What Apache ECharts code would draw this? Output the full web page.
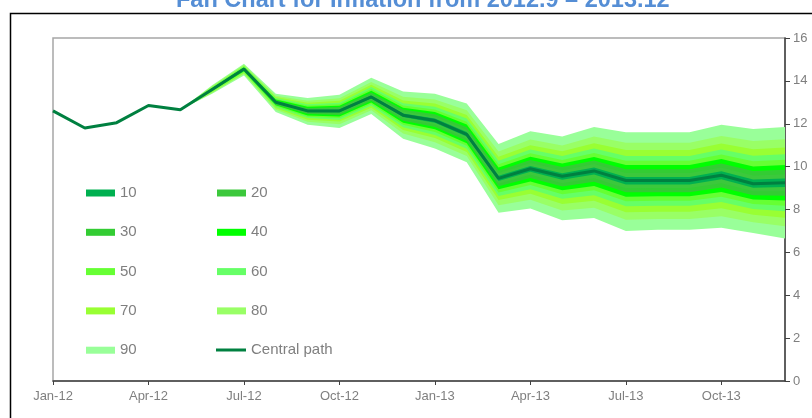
<!DOCTYPE html>
<html>
<head>
<meta charset="utf-8">
<script src="https://cdn.jsdelivr.net/npm/echarts@6/dist/echarts.min.js"></script>
<style>
  html, body { margin: 0; padding: 0; background: #fff; }
  #main { width: 812px; height: 418px; }
</style>
</head>
<body>
<div id="main"></div>
<script>
// months on the x axis
var months = ['Jan-12', 'Feb-12', 'Mar-12', 'Apr-12', 'May-12', 'Jun-12', 'Jul-12', 'Aug-12',
  'Sep-12', 'Oct-12', 'Nov-12', 'Dec-12', 'Jan-13', 'Feb-13', 'Mar-13', 'Apr-13',
  'May-13', 'Jun-13', 'Jul-13', 'Aug-13', 'Sep-13', 'Oct-13', 'Nov-13', 'Dec-13'];

// central path
var centralPath = [12.6, 11.8, 12.05, 12.85, 12.65, 13.6, 14.55, 13.0, 12.6, 12.6, 13.25, 12.4,
  12.15, 11.5, 9.45, 9.9, 9.55, 9.8, 9.35, 9.35, 9.35, 9.6, 9.2, 9.25];

// fan bands: lower / upper bound of each probability band
var band10Lo = [null, null, null, null, 12.65, 13.58, 14.53, 12.97, 12.55, 12.54, 13.19, 12.32, 12.05, 11.4, 9.33, 9.76, 9.39, 9.63, 9.17, 9.17, 9.17, 9.41, 9.02, 9.05];
var band10Hi = [null, null, null, null, 12.65, 13.62, 14.57, 13.03, 12.65, 12.66, 13.32, 12.48, 12.25, 11.61, 9.57, 10.03, 9.69, 9.96, 9.52, 9.52, 9.52, 9.78, 9.4, 9.45];
var band20Lo = [null, null, null, null, 12.65, 13.57, 14.5, 12.93, 12.5, 12.48, 13.13, 12.23, 11.95, 11.3, 9.2, 9.62, 9.23, 9.46, 8.99, 9.0, 9.0, 9.22, 8.85, 8.85];
var band20Hi = [null, null, null, null, 12.65, 13.63, 14.59, 13.06, 12.69, 12.72, 13.39, 12.57, 12.34, 11.72, 9.7, 10.17, 9.83, 10.12, 9.7, 9.7, 9.7, 9.96, 9.59, 9.65];
var band30Lo = [null, null, null, null, 12.65, 13.55, 14.48, 12.89, 12.45, 12.41, 13.06, 12.14, 11.85, 11.2, 9.08, 9.47, 9.07, 9.29, 8.8, 8.81, 8.81, 9.03, 8.66, 8.64];
var band30Hi = [null, null, null, null, 12.65, 13.65, 14.61, 13.09, 12.74, 12.78, 13.46, 12.66, 12.44, 11.84, 9.82, 10.31, 9.98, 10.28, 9.88, 9.88, 9.88, 10.15, 9.8, 9.86];
var band40Lo = [null, null, null, null, 12.65, 13.54, 14.45, 12.86, 12.39, 12.34, 12.99, 12.05, 11.74, 11.09, 8.94, 9.31, 8.9, 9.1, 8.6, 8.62, 8.62, 8.82, 8.47, 8.42];
var band40Hi = [null, null, null, null, 12.65, 13.66, 14.63, 13.13, 12.79, 12.84, 13.54, 12.75, 12.55, 11.96, 9.96, 10.46, 10.14, 10.45, 10.07, 10.07, 10.07, 10.35, 10.01, 10.08];
var band50Lo = [null, null, null, null, 12.65, 13.52, 14.43, 12.82, 12.33, 12.27, 12.92, 11.95, 11.62, 10.97, 8.79, 9.14, 8.71, 8.9, 8.39, 8.41, 8.41, 8.6, 8.26, 8.18];
var band50Hi = [null, null, null, null, 12.65, 13.68, 14.65, 13.16, 12.85, 12.91, 13.62, 12.85, 12.66, 12.09, 10.11, 10.62, 10.31, 10.64, 10.27, 10.27, 10.27, 10.56, 10.25, 10.32];
var band60Lo = [null, null, null, null, 12.65, 13.5, 14.4, 12.77, 12.27, 12.19, 12.84, 11.84, 11.48, 10.83, 8.63, 8.95, 8.5, 8.67, 8.15, 8.17, 8.17, 8.35, 8.02, 7.92];
var band60Hi = [null, null, null, null, 12.65, 13.7, 14.68, 13.2, 12.91, 12.98, 13.71, 12.96, 12.79, 12.24, 10.27, 10.8, 10.5, 10.85, 10.5, 10.5, 10.5, 10.8, 10.51, 10.58];
var band70Lo = [null, null, null, null, 12.65, 13.47, 14.36, 12.72, 12.19, 12.1, 12.75, 11.71, 11.33, 10.68, 8.44, 8.73, 8.26, 8.41, 7.87, 7.9, 7.9, 8.06, 7.75, 7.61];
var band70Hi = [null, null, null, null, 12.65, 13.73, 14.71, 13.25, 12.98, 13.07, 13.82, 13.09, 12.94, 12.41, 10.46, 11.0, 10.72, 11.09, 10.77, 10.77, 10.77, 11.08, 10.81, 10.89];
var band80Lo = [null, null, null, null, 12.65, 13.44, 14.32, 12.65, 12.09, 11.98, 12.63, 11.54, 11.14, 10.49, 8.2, 8.46, 7.95, 8.08, 7.52, 7.56, 7.56, 7.69, 7.41, 7.22];
var band80Hi = [null, null, null, null, 12.65, 13.76, 14.75, 13.31, 13.07, 13.19, 13.95, 13.26, 13.13, 12.63, 10.7, 11.27, 10.99, 11.4, 11.11, 11.11, 11.11, 11.43, 11.19, 11.28];
var band90Lo = [null, null, null, null, 12.65, 13.4, 14.25, 12.55, 11.95, 11.8, 12.45, 11.3, 10.85, 10.2, 7.85, 8.05, 7.5, 7.6, 7.0, 7.05, 7.05, 7.15, 6.9, 6.65];
var band90Hi = [null, null, null, null, 12.65, 13.8, 14.8, 13.4, 13.2, 13.35, 14.15, 13.5, 13.4, 12.95, 11.05, 11.65, 11.4, 11.85, 11.6, 11.6, 11.6, 11.95, 11.75, 11.85];

var yTicks = [0, 2, 4, 6, 8, 10, 12, 14, 16];

var bands = [
  { name: '90', lo: band90Lo, hi: band90Hi, color: '#99FF99' },
  { name: '80', lo: band80Lo, hi: band80Hi, color: '#99FF66' },
  { name: '70', lo: band70Lo, hi: band70Hi, color: '#99FF33' },
  { name: '60', lo: band60Lo, hi: band60Hi, color: '#66FF66' },
  { name: '50', lo: band50Lo, hi: band50Hi, color: '#66FF33' },
  { name: '40', lo: band40Lo, hi: band40Hi, color: '#00FF00' },
  { name: '30', lo: band30Lo, hi: band30Hi, color: '#33CC33' },
  { name: '20', lo: band20Lo, hi: band20Hi, color: '#3CC83C' },
  { name: '10', lo: band10Lo, hi: band10Hi, color: '#00B050' }
];

var myChart = echarts.init(document.getElementById('main'));

var series = [];
bands.forEach(function (b) {
  // invisible base line, then the band thickness stacked on it
  series.push({
    name: b.name + '-base',
    type: 'line',
    stack: 'band' + b.name,
    data: b.lo,
    symbol: 'none',
    lineStyle: { width: 0, opacity: 0 },
    silent: true
  });
  series.push({
    name: b.name,
    type: 'line',
    stack: 'band' + b.name,
    data: b.hi.map(function (v, i) {
      return v == null ? null : +(v - b.lo[i]).toFixed(3);
    }),
    symbol: 'none',
    color: b.color,
    itemStyle: { color: b.color },
    lineStyle: { width: 0, opacity: 0 },
    areaStyle: { color: b.color, opacity: 1 },
    silent: true
  });
});
series.push({
  name: 'Central path',
  type: 'line',
  data: centralPath,
  symbol: 'none',
  color: '#008040',
  itemStyle: { color: '#008040' },
  lineStyle: { color: '#008040', width: 3 },
  z: 5
});

var legendText = { color: '#7f7f7f', fontSize: 15, fontFamily: 'Liberation Sans, Arial', lineHeight: 16 };

var option = {
  animation: false,
  backgroundColor: '#fff',
  title: {
    text: 'Fan Chart for Inflation from 2012.9 \u2013 2013.12',
    left: 171,
    top: -16,
    textStyle: { color: '#558ED5', fontSize: 23.5, fontWeight: 'bold', fontFamily: 'Liberation Sans, Arial' }
  },
  graphic: [
    {
      type: 'rect',
      shape: { x: 10.5, y: 13.5, width: 900, height: 500 },
      style: { fill: 'none', stroke: '#000', lineWidth: 1.5 },
      silent: true
    }
  ],
  legend: [
    {
      orient: 'vertical',
      left: 86, top: 185, padding: 0,
      itemWidth: 29, itemHeight: 7, itemGap: 23.3,
      icon: 'rect',
      textStyle: legendText,
      data: ['10', '30', '50', '70', '90']
    },
    {
      orient: 'vertical',
      left: 217, top: 185, padding: 0,
      itemWidth: 29, itemHeight: 7, itemGap: 23.3,
      icon: 'rect',
      textStyle: legendText,
      data: ['20', '40', '60', '80']
    },
    {
      orient: 'vertical',
      left: 216, top: 342, padding: 0,
      itemWidth: 30, itemHeight: 3,
      icon: 'rect',
      textStyle: legendText,
      data: ['Central path']
    }
  ],
  grid: {
    left: 53, right: 27, top: 38, bottom: 37,
    show: true,
    borderColor: '#a6a6a6',
    borderWidth: 1.5,
    backgroundColor: 'transparent'
  },
  xAxis: {
    type: 'category',
    data: months,
    boundaryGap: false,
    axisLine: { lineStyle: { color: '#404040', width: 1.5 } },
    axisTick: { interval: 2, length: 4, lineStyle: { color: '#404040' } },
    axisLabel: { interval: 2, color: '#7f7f7f', fontSize: 13, margin: 9, fontFamily: 'Liberation Sans, Arial' },
    splitLine: { show: false }
  },
  yAxis: {
    type: 'value',
    position: 'right',
    min: yTicks[0],
    max: yTicks[yTicks.length - 1],
    interval: 2,
    axisLine: { show: true, lineStyle: { color: '#404040', width: 1.5 } },
    axisTick: { show: true, length: 5, lineStyle: { color: '#404040' } },
    axisLabel: { color: '#7f7f7f', fontSize: 13, margin: 8, fontFamily: 'Liberation Sans, Arial' },
    splitLine: { show: false }
  },
  series: series
};

myChart.setOption(option);

window.addEventListener('resize', function () {
  myChart.resize();
});
</script>
</body>
</html>
